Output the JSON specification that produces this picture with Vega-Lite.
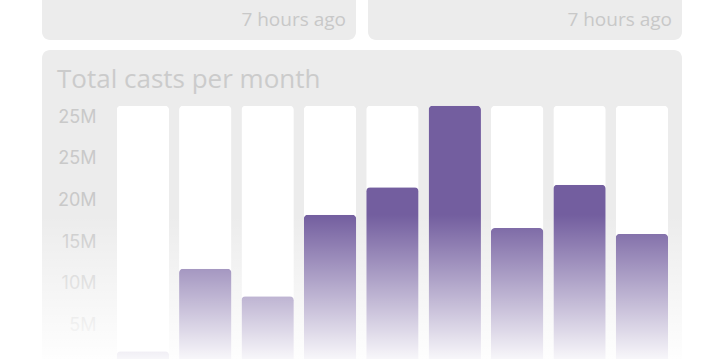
{
  "$schema": "https://vega.github.io/schema/vega-lite/v6.json",
  "background": "#ffffff",
  "padding": {"left": 42, "top": -20, "right": 39, "bottom": 0},
  "autosize": {"type": "pad"},
  "config": {
    "view": {"fill": "#ececec", "stroke": null, "cornerRadius": 8},
    "font": "Open Sans"
  },
  "spacing": 10,
  "vconcat": [
    {
      "spacing": 12,
      "hconcat": [
        {
          "width": 314,
          "height": 60,
          "data": {"values": [{"label": "7 hours ago"}]},
          "mark": {"type": "text", "align": "right", "baseline": "alphabetic", "dx": -10, "dy": 16, "font": "Open Sans", "fontSize": 19, "color": "#c8c8c8"},
          "encoding": {
            "text": {"field": "label"},
            "x": {"datum": 1, "type": "quantitative", "scale": {"domain": [0, 1]}, "axis": null}
          }
        },
        {
          "width": 314,
          "height": 60,
          "data": {"values": [{"label": "7 hours ago"}]},
          "mark": {"type": "text", "align": "right", "baseline": "alphabetic", "dx": -10, "dy": 16, "font": "Open Sans", "fontSize": 19, "color": "#c8c8c8"},
          "encoding": {
            "text": {"field": "label"},
            "x": {"datum": 1, "type": "quantitative", "scale": {"domain": [0, 1]}, "axis": null}
          }
        }
      ]
    },
    {
      "width": 640,
      "height": 317,
      "view": {"fill": "#ececec", "stroke": null, "cornerRadius": 8},
      "title": {"text": "Total casts per month", "anchor": "start", "frame": "group", "offset": -64, "baseline": "alphabetic", "dx": 15, "font": "Open Sans", "fontSize": 26, "fontWeight": "normal", "color": "#cbcbcb"},
      "data": {"values": [
        {"month": "2023-06", "casts": 1900000},
        {"month": "2023-07", "casts": 11800000},
        {"month": "2023-08", "casts": 8500000},
        {"month": "2023-09", "casts": 18300000},
        {"month": "2023-10", "casts": 21600000},
        {"month": "2023-11", "casts": 31400000},
        {"month": "2023-12", "casts": 16700000},
        {"month": "2024-01", "casts": 21900000},
        {"month": "2024-02", "casts": 16000000}
      ]},
      "transform": [{"joinaggregate": [{"op": "max", "field": "casts", "as": "maxCasts"}]}],
      "layer": [
        {
          "mark": {"type": "bar", "color": "#ffffff", "cornerRadiusTopLeft": 4, "cornerRadiusTopRight": 4},
          "encoding": {
            "x": {"field": "month", "type": "ordinal", "sort": null, "axis": null, "scale": {"paddingInner": 0.16, "paddingOuter": 0.71, "align": 0.843}},
            "y": {
              "field": "maxCasts", "type": "quantitative",
              "scale": {"domain": [0, 38100000], "nice": false, "zero": true},
              "axis": {
                "values": [5000000, 10000000, 15000000, 20000000, 25000000, 30000000],
                "labelExpr": "datum.value >= 30000000 ? '25M' : (datum.value / 1000000) + 'M'",
                "domain": false, "ticks": false, "tickSize": 0, "grid": false,
                "labelPadding": 0, "offset": -54, "title": null,
                "labelFont": "Inter", "labelFontSize": 18, "labelColor": "#c9c9c9"
              }
            }
          }
        },
        {
          "mark": {"type": "bar", "color": "#735e9f", "cornerRadiusTopLeft": 4, "cornerRadiusTopRight": 4},
          "encoding": {
            "x": {"field": "month", "type": "ordinal", "sort": null},
            "y": {"field": "casts", "type": "quantitative"}
          }
        },
        {
          "data": {"values": [{}]},
          "mark": {"type": "rect", "color": {"gradient": "linear", "x1": 0, "y1": 0, "x2": 0, "y2": 1, "stops": [
            {"offset": 0, "color": "rgba(255,255,255,0)"},
            {"offset": 0.52, "color": "rgba(255,255,255,0)"},
            {"offset": 1, "color": "rgba(255,255,255,1)"}
          ]}},
          "encoding": {}
        }
      ]
    }
  ]
}
